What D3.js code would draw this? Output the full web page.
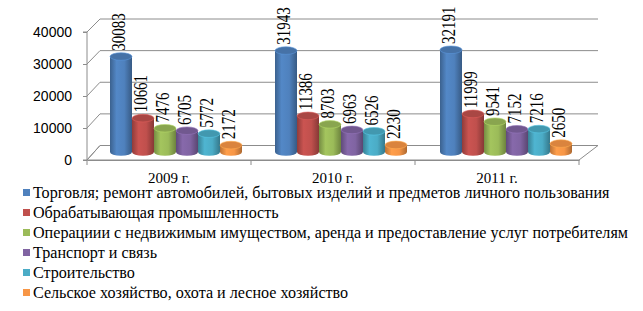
<!DOCTYPE html>
<html>
<head>
<meta charset="utf-8">
<script src="https://cdn.jsdelivr.net/npm/d3@7"></script>
<style>
  body { margin: 0; background: #fff; }
  svg { display: block; }
</style>
</head>
<body>
<script>
// chart data
var years = ["2009 г.", "2010 г.", "2011 г."];
var seriesNames = [
    "Торговля; ремонт автомобилей, бытовых изделий и предметов личного пользования",
    "Обрабатывающая промышленность",
    "Операциии с недвижимым имуществом, аренда и предоставление услуг потребителям",
    "Транспорт и связь",
    "Строительство",
    "Сельское хозяйство, охота и лесное хозяйство"
];
var trade = [30083, 31943, 32191];
var manufacturing = [10661, 11386, 11999];
var realEstate = [7476, 8703, 9541];
var transport = [6705, 6963, 7152];
var construction = [5772, 6526, 7216];
var agriculture = [2172, 2230, 2650];
var yTicks = [0, 10000, 20000, 30000, 40000];

var seriesValues = [trade, manufacturing, realEstate, transport, construction, agriculture];
var colors = ["#4f81bd", "#c0504d", "#9bbb59", "#8064a2", "#4bacc6", "#f79646"];

var width = 643, height = 311;

var mySVG = d3.select("body").append("svg")
    .attr("width", width)
    .attr("height", height);

// three planes: front edge, middle (bars) and back wall
var yFront = d3.scaleLinear().domain([0, 40000]).range([160, 32]);
var yMid = d3.scaleLinear().domain([0, 40000]).range([152, 25]);
var yBack = d3.scaleLinear().domain([0, 40000]).range([145.5, 19]);

var xFront = d3.scaleBand().domain(years).range([87, 579]);
var xMid = d3.scaleBand().domain(years).range([93.5, 588.5]);
var xBack = d3.scaleLinear().domain([87, 579]).range([100, 598]);

var xInner = d3.scaleBand().domain(d3.range(seriesNames.length))
    .range([16.5, xMid.bandwidth() - 16.5]);

var gridColor = "#8c8c8c";

// floor
mySVG.append("path")
    .attr("d", "M" + xFront.range()[0] + "," + yFront(0)
        + "L" + xFront.range()[1] + "," + yFront(0)
        + "L" + xBack(xFront.range()[1]) + "," + yBack(0)
        + "L" + xBack(xFront.range()[0]) + "," + yBack(0) + "Z")
    .attr("fill", "none")
    .attr("stroke", gridColor)
    .attr("stroke-width", 1);

// gridlines on side wall and back wall
var grid = mySVG.append("g").attr("class", "grid");
grid.selectAll("path")
    .data(yTicks)
    .enter()
    .append("path")
    .attr("d", function (d) {
        return "M" + xFront.range()[0] + "," + yFront(d)
            + "L" + xBack(xFront.range()[0]) + "," + yBack(d)
            + "L" + xBack(xFront.range()[1]) + "," + yBack(d);
    })
    .attr("fill", "none")
    .attr("stroke", gridColor)
    .attr("stroke-width", 1);

// y axis on the front edge
var yAxis = mySVG.append("g")
    .attr("transform", "translate(" + xFront.range()[0] + ",0)")
    .call(d3.axisLeft(yFront).tickValues(yTicks).tickSize(4).tickPadding(11)
        .tickFormat(d3.format("d")));
yAxis.select(".domain").attr("stroke", gridColor).attr("d", "M-4," + yFront(0) + "H0V" + yFront(40000) + "H-4");
yAxis.selectAll(".tick line").attr("stroke", gridColor);
yAxis.selectAll("text")
    .style("font-family", "'Liberation Sans', Arial, sans-serif")
    .style("font-size", "14px")
    .attr("fill", "#000");

// x axis
var xAxis = mySVG.append("g")
    .attr("transform", "translate(0," + yFront(0) + ")")
    .call(d3.axisBottom(xFront).tickSize(0).tickPadding(12));
xAxis.select(".domain").attr("stroke", gridColor);
xAxis.selectAll("text")
    .style("font-family", "'Liberation Serif', 'Times New Roman', serif")
    .style("font-size", "15px")
    .attr("fill", "#000");
// category separators
xAxis.selectAll(".sep")
    .data(xFront.domain().map(function (d) { return xFront(d); }).concat([xFront.range()[1]]))
    .enter()
    .append("line")
    .attr("class", "sep")
    .attr("x1", function (d) { return d; })
    .attr("x2", function (d) { return d; })
    .attr("y1", 0)
    .attr("y2", 5)
    .attr("stroke", gridColor);

// gradients for cylinders
var defs = mySVG.append("defs");
colors.forEach(function (c, i) {
    var base = d3.color(c);
    var g = defs.append("linearGradient")
        .attr("id", "cyl" + i)
        .attr("x1", "0%").attr("x2", "100%").attr("y1", "0%").attr("y2", "0%");
    g.append("stop").attr("offset", "0%").attr("stop-color", base.darker(0.8));
    g.append("stop").attr("offset", "30%").attr("stop-color", base.brighter(0.15));
    g.append("stop").attr("offset", "65%").attr("stop-color", base);
    g.append("stop").attr("offset", "100%").attr("stop-color", base.darker(1));
});

// flatten into bar records
var bars = [];
years.forEach(function (year, yi) {
    seriesValues.forEach(function (vals, si) {
        bars.push({ year: year, series: si, value: vals[yi] });
    });
});

var rx = xInner.bandwidth() / 2;
var ry = 3.8;

var barG = mySVG.selectAll(".bar")
    .data(bars)
    .enter()
    .append("g")
    .attr("class", "bar")
    .attr("transform", function (d) {
        return "translate(" + (xMid(d.year) + xInner(d.series) + rx) + ",0)";
    });

barG.append("path")
    .attr("d", function (d) {
        var top = yMid(d.value), bot = yMid(0);
        return "M" + (-rx) + "," + top
            + "L" + (-rx) + "," + bot
            + "A" + rx + "," + ry + " 0 0 0 " + rx + "," + bot
            + "L" + rx + "," + top + "Z";
    })
    .attr("fill", function (d) { return "url(#cyl" + d.series + ")"; });

barG.append("ellipse")
    .attr("cx", 0)
    .attr("cy", function (d) { return yMid(d.value); })
    .attr("rx", rx)
    .attr("ry", ry)
    .attr("fill", function (d) { return d3.color(colors[d.series]).darker(0.35); })
    .attr("stroke", function (d) { return d3.color(colors[d.series]).brighter(0.4); })
    .attr("stroke-width", 0.6);

// data labels, rotated
mySVG.selectAll(".lbl")
    .data(bars)
    .enter()
    .append("text")
    .attr("class", "lbl")
    .attr("transform", function (d) {
        var x = xMid(d.year) + xInner(d.series) + rx + 4;
        var y = yMid(d.value) - ry - 2;
        return "translate(" + x + "," + y + ") rotate(-90) scale(1,1.2)";
    })
    .style("font-family", "'Liberation Serif', 'Times New Roman', serif")
    .style("font-size", "15px")
    .attr("fill", "#000")
    .text(function (d) { return d.value; });

// legend
var legend = mySVG.append("g").attr("class", "legend");
var rows = legend.selectAll("g")
    .data(seriesNames)
    .enter()
    .append("g")
    .attr("transform", function (d, i) { return "translate(23," + (198 + i * 20) + ")"; });
rows.append("rect")
    .attr("x", 0)
    .attr("y", -9)
    .attr("width", 7)
    .attr("height", 7)
    .attr("fill", function (d, i) { return colors[i]; });
var legendText = rows.append("text")
    .attr("x", 10)
    .style("font-family", "'Liberation Serif', 'Times New Roman', serif")
    .style("font-size", "16px")
    .attr("fill", "#000")
    .text(function (d) { return d; });

// squeeze legend text horizontally to the width seen in the original
var firstLen = legendText.node().getComputedTextLength();
var sx = 577 / firstLen;
legendText.attr("transform", "scale(" + sx + ",1)")
    .attr("x", 10 / sx);
</script>
</body>
</html>
